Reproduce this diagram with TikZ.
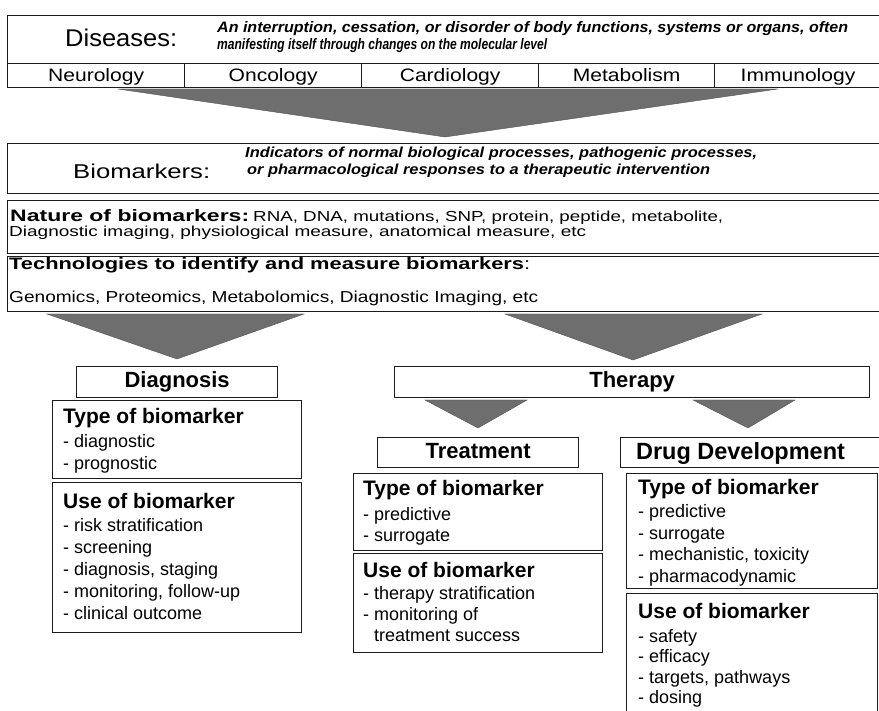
\documentclass[tikz,border=0pt]{standalone}
\usepackage{fontspec}
\usepackage{graphicx}
\setmainfont{Liberation Sans}
\newfontfamily\rowfont[FakeStretch=1.17]{Liberation Sans}
\newcommand{\fitl}[3]{\resizebox{#1pt}{#2pt}{#3}}
\definecolor{boxcol}{HTML}{1C1C1C}
\definecolor{arrcol}{HTML}{6E6E6E}
\begin{document}
\begin{tikzpicture}[x=1pt,y=-1pt,
  box/.style={draw=boxcol, line width=1.3pt, fill=white, inner sep=0pt, anchor=north west},
  arr/.style={fill=arrcol, draw=arrcol!75!black, line width=0.4pt},
  txt/.style={inner sep=0pt, anchor=base west},
  ctxt/.style={inner sep=0pt, anchor=base},
  rowtxt/.style={ctxt, font=\rowfont\fontsize{18}{20}\selectfont},
  ttl/.style={ctxt, font=\bfseries\fontsize{22}{24}\selectfont},
  hd/.style={txt, font=\bfseries\fontsize{21}{24}\selectfont},
  item/.style={txt, font=\fontsize{18}{21}\selectfont}]
\fill[white] (0,0) rectangle (879,711);
\useasboundingbox (0,0) rectangle (879,711);
\begin{scope}
\clip (0,0) rectangle (879,711);
% ---------- Diseases ----------
\node[box, minimum width=878pt, minimum height=48pt] (dis) at (7,15) {};
\node[box, minimum width=177pt, minimum height=24pt] (neu) at (7,63) {};
\node[box, minimum width=177pt, minimum height=24pt] (onc) at (184,63) {};
\node[box, minimum width=177pt, minimum height=24pt] (car) at (361,63) {};
\node[box, minimum width=176pt, minimum height=24pt] (met) at (538,63) {};
\node[box, minimum width=171pt, minimum height=24pt] (imm) at (714,63) {};
\node[txt] (distitle) at (65,47) {\fitl{112}{17.5}{Diseases:}};
\node[txt] (disd1) at (217,33) {\fitl{631}{11}{\bfseries\itshape An interruption, cessation, or disorder of body functions, systems or organs, often}};
\node[txt] (disd2) at (217,50) {\fitl{330}{11}{\bfseries\itshape manifesting itself through changes on the molecular level}};
\node[rowtxt] (tneu) at (neu.center |- 0,82) {Neurology};
\node[rowtxt] (tonc) at (onc.center |- 0,82) {Oncology};
\node[rowtxt] (tcar) at (car.center |- 0,82) {Cardiology};
\node[rowtxt] (tmet) at (met.center |- 0,82) {Metabolism};
\node[rowtxt] (timm) at (798,82) {Immunology};
% big arrow
\fill[arr] (118,89) -- (778,89) -- (445,137) -- cycle;
% ---------- Biomarkers ----------
\node[box, minimum width=878pt, minimum height=50pt] (bio) at (7,143) {};
\node[txt] (biotitle) at (73,179) {\fitl{137}{14.5}{Biomarkers:}};
\node[txt] (biod1) at (245,158) {\fitl{512}{10.5}{\bfseries\itshape Indicators of normal biological processes, pathogenic processes,}};
\node[txt] (biod2) at (247,175) {\fitl{463}{10.5}{\bfseries\itshape or pharmacological responses to a therapeutic intervention}};
\node[box, minimum width=878pt, minimum height=53pt] (nat) at (7,200) {};
\node[txt] (nat1a) at (10,222) {\fitl{239}{12}{\textbf{Nature of biomarkers:}}};
\node[txt] (nat1b) at (253,222) {\fitl{470}{10.5}{RNA, DNA, mutations, SNP, protein, peptide, metabolite,}};
\node[txt] (nat2) at (9,237) {\fitl{577}{10.5}{Diagnostic imaging, physiological measure, anatomical measure, etc}};
\node[box, minimum width=878pt, minimum height=55pt] (tec) at (7,256) {};
\node[txt] (tec1) at (9,270) {\fitl{521}{12}{\textbf{Technologies to identify and measure biomarkers}:}};
\node[txt] (tec2) at (9,303) {\fitl{529}{11.5}{Genomics, Proteomics, Metabolomics, Diagnostic Imaging, etc}};
% arrows to diagnosis / therapy
\fill[arr] (47,314) -- (304,314) -- (177,359) -- cycle;
\fill[arr] (505,314) -- (762,314) -- (633,360) -- cycle;
% ---------- Diagnosis ----------
\node[box, minimum width=201pt, minimum height=31pt] (diag) at (76,366) {};
\node[ttl] (tdiag) at (diag.center |- 0,388) {Diagnosis};
\node[box, minimum width=249pt, minimum height=78pt] (dtype) at (52,400) {};
\node[hd] (dtypeh) at (63,424) {Type of biomarker};
\node[item] (dt1) at (63,448) {- diagnostic};
\node[item] (dt2) at (63,469) {- prognostic};
\node[box, minimum width=249pt, minimum height=150pt] (duse) at (52,482) {};
\node[hd] (duseh) at (63,508) {Use of biomarker};
\node[item] (du1) at (63,531) {- risk stratification};
\node[item] (du2) at (63,553) {- screening};
\node[item] (du3) at (63,575) {- diagnosis, staging};
\node[item] (du4) at (63,597) {- monitoring, follow-up};
\node[item] (du5) at (63,619) {- clinical outcome};
% ---------- Therapy ----------
\node[box, minimum width=475pt, minimum height=31pt] (ther) at (394,366) {};
\node[ttl] (tther) at (ther.center |- 0,388) {Therapy};
\fill[arr] (425,400) -- (527,400) -- (478,428) -- cycle;
\fill[arr] (693,400) -- (795,400) -- (748,428) -- cycle;
% ---------- Treatment ----------
\node[box, minimum width=201pt, minimum height=30pt] (treat) at (377,437) {};
\node[ttl] (ttreat) at (treat.center |- 0,459) {Treatment};
\node[box, minimum width=249pt, minimum height=77pt] (ttype) at (353,473) {};
\node[hd] (ttypeh) at (363,496) {Type of biomarker};
\node[item] (tt1) at (363,520) {- predictive};
\node[item] (tt2) at (363,541) {- surrogate};
\node[box, minimum width=249pt, minimum height=99pt] (tuse) at (353,553) {};
\node[hd] (tuseh) at (363,577) {Use of biomarker};
\node[item] (tu1) at (363,599) {- therapy stratification};
\node[item] (tu2) at (363,620) {- monitoring of};
\node[item] (tu3) at (363,641) {\phantom{- }treatment success};
% ---------- Drug Development ----------
\node[box, minimum width=265pt, minimum height=30pt] (drug) at (620,437) {};
\node[ctxt, font=\bfseries\fontsize{23.5}{26}\selectfont] (tdrug) at (740.5,460) {Drug Development};
\node[box, minimum width=251pt, minimum height=115pt] (rtype) at (626,473) {};
\node[hd] (rtypeh) at (638,494) {Type of biomarker};
\node[item] (rt1) at (638,518) {- predictive};
\node[item] (rt2) at (638,539) {- surrogate};
\node[item] (rt3) at (638,560) {- mechanistic, toxicity};
\node[item] (rt4) at (638,582) {- pharmacodynamic};
\node[box, minimum width=251pt, minimum height=140pt] (ruse) at (626,593) {};
\node[hd] (ruseh) at (638,618) {Use of biomarker};
\node[item] (ru1) at (638,642) {- safety};
\node[item] (ru2) at (638,662) {- efficacy};
\node[item] (ru3) at (638,683) {- targets, pathways};
\node[item] (ru4) at (638,703) {- dosing};
\end{scope}
\end{tikzpicture}
\end{document}
